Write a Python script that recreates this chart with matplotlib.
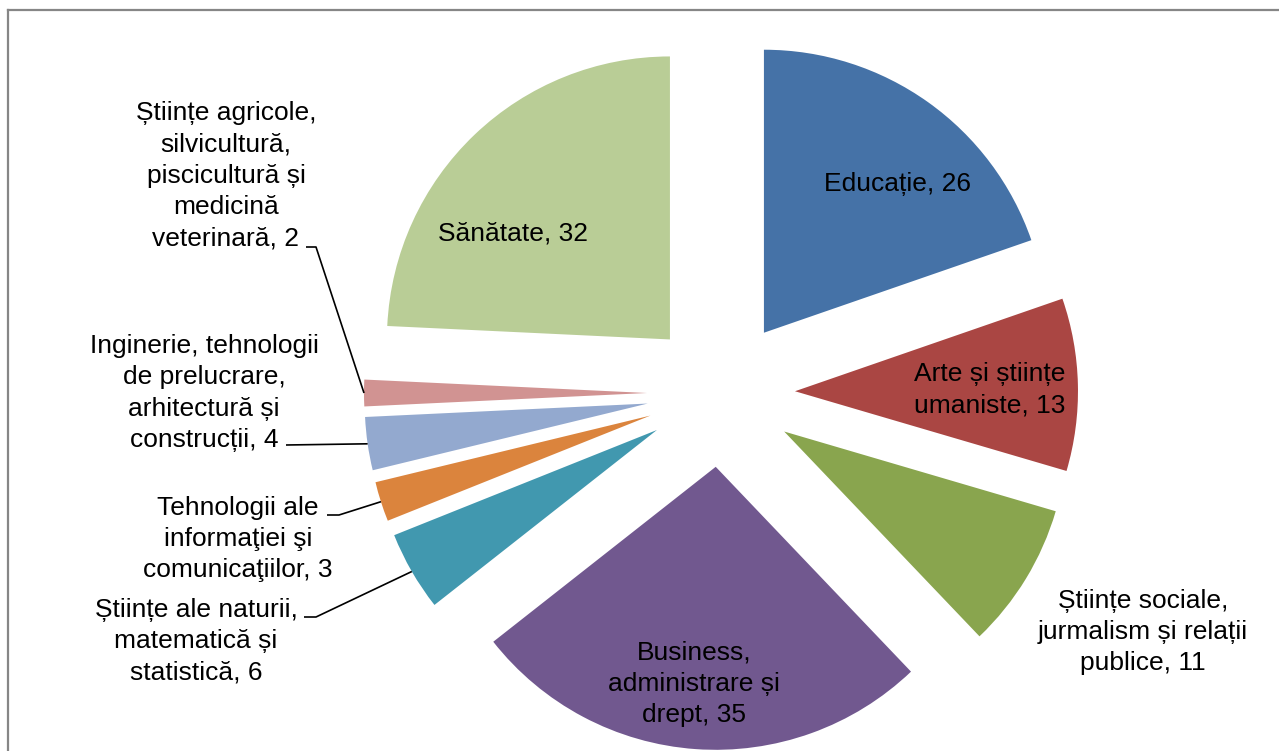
import numpy as np
import matplotlib.pyplot as plt

plt.rcParams['font.family'] = ['Liberation Sans', 'DejaVu Sans']

# data (clockwise from 12 o'clock)
categories = ["Educație", "Arte și științe\numaniste", "Științe sociale,\njurmalism și relații\npublice",
              "Business,\nadministrare și\ndrept", "Științe ale naturii,\nmatematică și\nstatistică",
              "Tehnologii ale\ninformaţiei şi\ncomunicaţiilor", "Inginerie, tehnologii\nde prelucrare,\narhitectură și\nconstrucții",
              "Științe agricole,\nsilvicultură,\npiscicultură și\nmedicină\nveterinară", "Sănătate"]
values = [26, 13, 11, 35, 6, 3, 4, 2, 32]
colors = ["#4572A7", "#AA4643", "#89A54E", "#71588F", "#4198AF",
          "#DB843D", "#93A9CF", "#D19392", "#B9CD96"]

W, H = 1279, 751
fig = plt.figure(figsize=(12.79, 7.51), dpi=100)
ax = fig.add_axes([0, 0, 1, 1])

R = 283
# explode is in data units here (axes are in pixels)
wedges, _ = ax.pie(values, colors=colors, startangle=90, counterclock=False,
                   radius=R, center=(721, H - 393), explode=[74] * len(values),
                   wedgeprops=dict(linewidth=0))
ax.set_xlim(0, W)
ax.set_ylim(0, H)
ax.set_aspect('equal')
ax.axis('off')

labels = [f"{c}, {v}" for c, v in zip(categories, values)]

# label centres in pixel coords (y from top)
pos = [(898, 184), (990, 390), (1143, 632), (694, 684), (196, 641),
       (238, 539), (204, 393), (226, 176), (513, 234)]
for lab, (x, y) in zip(labels, pos):
    ax.text(x, H - y, lab, ha='center', va='center', fontsize=19, linespacing=1.39)

# leader lines for the small slices: (stub start, stub end) -> outer edge of wedge
stubs = {4: ((304, 617), (316, 617)), 5: ((327, 515), (339, 515)),
         6: ((286, 445), (286, 445)), 7: ((306, 247), (316, 247))}
for i, (p0, p1) in stubs.items():
    w = wedges[i]
    a = np.deg2rad((w.theta1 + w.theta2) / 2)
    ex = w.center[0] + w.r * np.cos(a)
    ey = w.center[1] + w.r * np.sin(a)
    ax.plot([p0[0], p1[0], ex], [H - p0[1], H - p1[1], ey], color='black', lw=1.2,
            solid_capstyle='butt')

# chart area border (only top and left visible)
ax.plot([8, W + 10], [H - 10, H - 10], color='#868686', lw=1.6, clip_on=False)
ax.plot([8, 8], [H - 10, -10], color='#868686', lw=1.6, clip_on=False)

fig.savefig('out.png', dpi=100)
